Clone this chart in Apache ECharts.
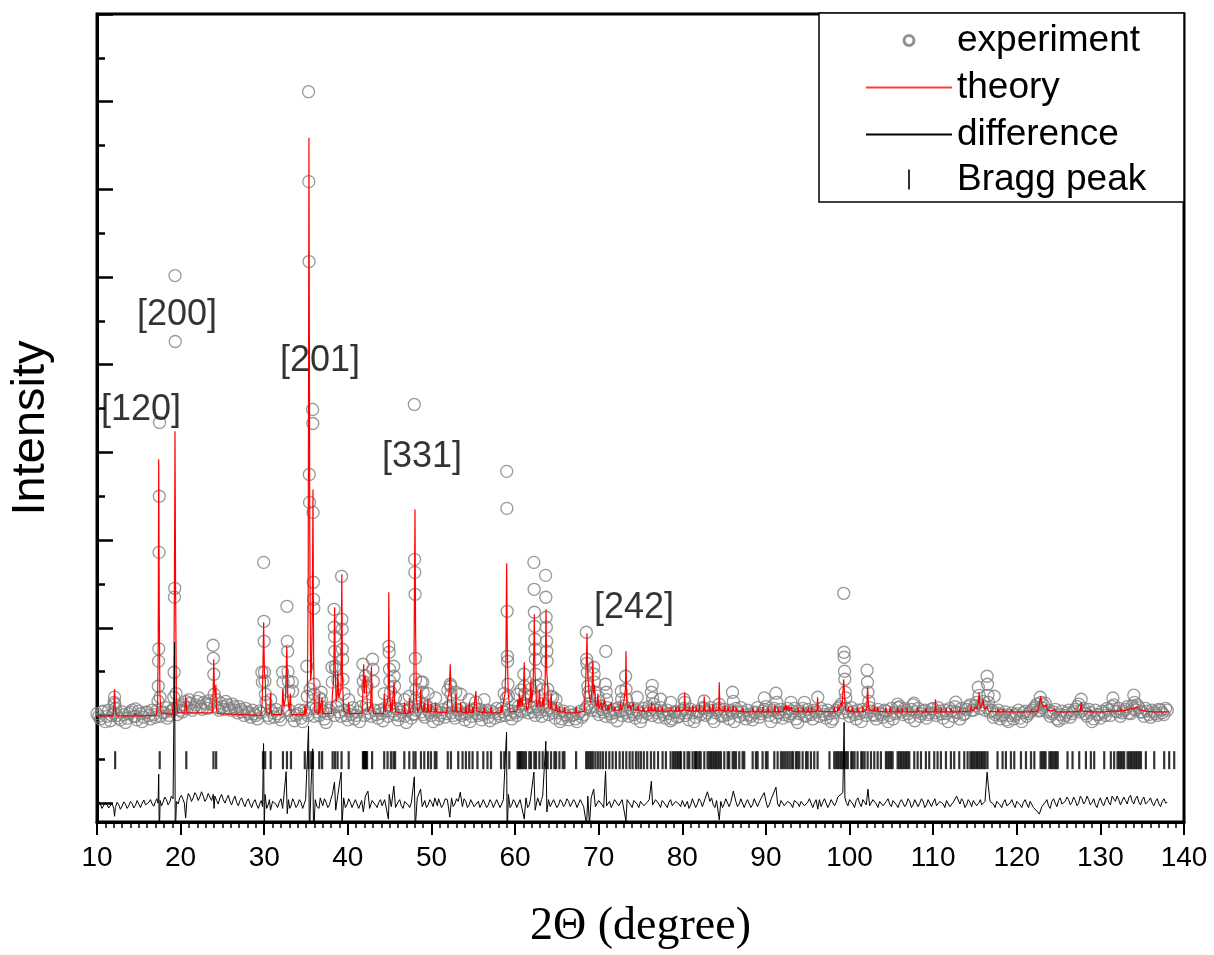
<!DOCTYPE html>
<html><head><meta charset="utf-8">
<script src="https://cdn.jsdelivr.net/npm/echarts@6/dist/echarts.min.js"></script>
<style>html,body{margin:0;padding:0;background:#fff}#chart{width:1214px;height:955px}</style>
</head><body><div id="chart"></div>
<script>
// ---- data (2θ in degrees, intensity in arbitrary units) ----
const experimentBackground = [
[10.0,1020],[10.4,960],[10.8,1050],[11.2,990],[11.6,940],[12.0,1030],[12.4,1000],[12.8,950],[13.2,1010],[13.6,970],
[14.0,1040],[14.4,990],[14.8,950],[15.2,1020],[15.6,980],[16.0,1040],[16.4,960],[16.8,1010],[17.2,1060],[17.6,990],
[18.0,1030],[18.4,970],[18.8,1050],[19.2,1080],[19.6,1010],[20.0,1060],[20.4,1120],[20.8,1080],[21.2,1140],[21.6,1090],
[22.0,1160],[22.4,1100],[22.8,1150],[23.2,1080],[23.6,1130],[24.4,1090],[24.8,1140],[25.2,1070],[25.6,1120],[26.0,1060],
[26.4,1100],[26.8,1030],[27.2,1070],[27.6,1000],[28.0,1040],[28.4,980],[28.8,1020],[29.2,960],[29.6,1030],[30.4,1000],
[30.8,1060],[31.2,980],[31.6,1020],[32.0,950],[32.4,1050],[33.2,1000],[33.6,940],[34.0,1020],[34.4,970],[34.8,1060],
[35.2,1000],[35.6,1080],[36.0,990],[36.4,1040],[36.8,1100],[37.2,960],[37.6,1020],[38.0,1090],[38.4,1000],[38.8,1120],
[39.2,990],[39.6,1060],[40.0,950],[40.4,1010],[40.8,960],[41.2,1040],[41.6,1100],[42.0,1000],[42.4,1080],[42.8,990],
[43.2,1060],[43.6,970],[44.0,1020],[44.4,1080],[44.8,990],[45.2,1100],[45.6,1010],[46.0,950],[46.4,1040],[46.8,990],
[47.2,1060],[47.6,970],[48.0,1020],[48.4,1100],[48.8,1040],[49.2,980],[49.6,1060],[50.0,1000],[50.4,1070],[50.8,960],
[51.2,1030],[51.6,980],[52.0,1090],[52.4,1030],[52.8,970],[53.2,1060],[53.6,1000],[54.0,950],[54.4,1040],[54.8,990],
[55.2,1080],[55.6,1000],[56.0,950],[56.4,1030],[56.8,980],[57.2,1050],[57.6,970],[58.0,1020],[58.4,1080],[58.8,1000],
[59.2,1060],[59.6,960],[60.0,1030],[60.4,1100],[60.8,1040],[61.2,1120],[61.6,1030],[62.0,1090],[62.4,1000],[62.8,1070],
[63.2,990],[63.6,1100],[64.0,1010],[64.4,1060],[64.8,970],[65.2,1030],[65.6,960],[66.0,1010],[66.4,950],[66.8,1000],
[67.2,960],[67.6,1020],[68.0,980],[68.4,1070],[68.8,1130],[69.2,1060],[69.6,1100],[70.0,1010],[70.4,1070],[70.8,990],
[71.2,1050],[71.6,980],[72.0,1030],[72.4,1090],[72.8,1000],[73.2,1060],[73.6,990],[74.0,1040],[74.4,970],[74.8,1030],
[75.2,980],[75.6,1050],[76.0,1100],[76.4,1000],[76.8,1060],[77.2,980],[77.6,1040],[78.0,970],[78.4,1020],[78.8,960],
[79.2,1040],[79.6,990],[80.0,1060],[80.4,1000],[80.8,950],[81.2,1030],[81.6,980],[82.0,1050],[82.4,1090],[82.8,1000],
[83.2,1060],[83.6,970],[84.0,1030],[84.4,1080],[84.8,990],[85.2,1040],[85.6,960],[86.0,1030],[86.4,1080],[86.8,990],
[87.2,1040],[87.6,960],[88.0,1010],[88.4,950],[88.8,1030],[89.2,980],[89.6,1050],[90.0,1100],[90.4,1000],[90.8,1060],
[91.2,980],[91.6,1030],[92.0,970],[92.4,1040],[92.8,990],[93.2,1050],[93.6,960],[94.0,1020],[94.4,1080],[94.8,990],
[95.2,1030],[95.6,960],[96.0,1040],[96.4,990],[96.8,1050],[97.2,970],[97.6,1020],[98.0,960],[98.4,1060],[98.8,1100],
[99.2,1030],[99.6,1080],[100.0,990],[100.4,1040],[100.8,960],[101.2,1020],[101.6,1070],[102.0,1000],[102.4,1090],[102.8,1010],
[103.2,960],[103.6,1030],[104.0,980],[104.4,1050],[104.8,1000],[105.2,960],[105.6,1040],[106.0,1100],[106.4,1010],[106.8,1060],
[107.2,980],[107.6,1120],[108.0,1040],[108.4,990],[108.8,1050],[109.2,970],[109.6,1030],[110.0,1080],[110.4,1000],[110.8,1050],
[111.2,970],[111.6,1020],[112.0,1080],[112.4,990],[112.8,1040],[113.2,960],[113.6,1010],[114.0,1070],[114.4,1120],[114.8,1060],
[115.2,1150],[115.6,1080],[116.0,1160],[116.4,1090],[116.8,1040],[117.2,980],[117.6,1030],[118.0,960],[118.4,1010],[118.8,950],
[119.2,1000],[119.6,960],[120.0,1020],[120.4,970],[120.8,1030],[121.2,990],[121.6,1040],[122.0,1080],[122.4,1130],[122.8,1060],
[123.2,1120],[123.6,1040],[124.0,990],[124.4,1040],[124.8,960],[125.2,1010],[125.6,970],[126.0,1030],[126.4,980],[126.8,1050],
[127.2,1100],[127.6,1040],[128.0,1080],[128.4,990],[128.8,1030],[129.2,960],[129.6,1010],[130.0,970],[130.4,1030],[130.8,1080],
[131.2,1000],[131.6,1120],[132.0,1040],[132.4,990],[132.8,1050],[133.2,1100],[133.6,1020],[134.0,1080],[134.4,1120],[134.8,1040],
[135.2,990],[135.6,1050],[136.0,980],[136.4,1040],[136.8,1000],[137.2,1060],[137.6,1010],[138.0,1060]
];
const experimentBackgroundB = [
[10.2,990],[10.6,1040],[11.0,930],[11.4,1060],[11.8,1000],[12.2,1080],[12.6,970],[13.0,1040],[13.4,920],[13.8,1020],
[14.2,1060],[14.6,990],[15.0,1050],[15.4,930],[15.8,1030],[16.2,1000],[16.6,1060],[17.0,980],[17.8,1040],[18.2,1090],
[18.6,1000],[19.0,1060],[19.8,1100],[20.2,1040],[20.6,1090],[21.0,1180],[21.4,1060],[21.8,1120],[22.2,1200],[22.6,1070],
[23.0,1130],[23.4,1170],[24.6,1060],[25.0,1100],[25.4,1160],[25.8,1080],[26.2,1130],[26.6,1060],[27.0,1100],[27.4,1040],
[27.8,1080],[28.2,1020],[28.6,1060],[29.0,1000],[29.4,1050],[30.6,970],[31.0,1030],[31.4,1070],[31.8,990],[33.0,1060],
[33.8,1000],[34.2,1060],[34.6,930],[35.0,1030],[36.2,1080],[36.6,1000],[37.0,1050],[37.4,920],[37.8,1060],[38.6,1100],
[39.0,1040],[39.8,1000],[40.2,1050],[40.6,1090],[41.0,1000],[41.4,930],[42.2,1120],[42.6,1030],[43.4,1010],[43.8,1060],
[44.2,940],[44.6,1050],[45.0,1120],[45.4,1050],[45.8,1080],[46.2,1000],[46.6,1070],[47.0,920],[47.4,1080],[47.8,1010],
[48.2,1060],[48.6,1140],[49.0,1010],[49.4,1100],[49.8,1030],[50.2,930],[50.6,1050],[51.0,1000],[51.4,1070],[51.8,1020],
[52.2,1110],[52.6,1000],[53.0,1070],[53.4,1020],[53.8,1080],[54.2,1020],[54.6,930],[55.0,1060],[55.4,1020],[55.8,1070],
[56.2,1010],[56.6,1060],[57.0,940],[57.4,1030],[57.8,1080],[58.2,990],[58.6,1040],[59.4,1010],[59.8,1050],[60.2,1000],
[60.6,1060],[61.0,1140],[61.4,1070],[61.8,1100],[62.2,1040],[62.6,1100],[63.0,1040],[63.4,1140],[63.8,1060],[64.2,1090],
[64.6,1030],[65.0,1080],[65.4,930],[65.8,1050],[66.2,990],[66.6,1040],[67.0,1010],[67.4,930],[67.8,1050],[68.2,1010],
[68.6,1100],[69.0,1090],[69.8,1050],[70.2,1110],[70.6,1040],[71.0,1090],[71.4,1020],[71.8,1070],[72.2,940],[72.6,1050],
[73.0,1110],[73.4,1030],[73.8,1080],[74.2,1010],[74.6,1060],[75.0,930],[75.4,1080],[75.8,1020],[76.2,1060],[76.6,1130],
[77.0,1030],[77.4,1090],[77.8,1010],[78.2,1060],[78.6,940],[79.0,1040],[79.4,980],[79.8,1030],[80.2,1080],[80.6,1030],
[81.0,1070],[81.4,930],[81.8,1040],[82.2,1010],[82.6,1080],[83.0,1030],[83.4,1090],[83.8,930],[84.2,1060],[84.6,1000],
[85.0,1070],[85.4,1010],[85.8,1060],[86.2,930],[86.6,1040],[87.0,1090],[87.4,1010],[87.8,1060],[88.2,990],[88.6,1040],
[89.0,1090],[89.4,1020],[89.8,1070],[90.2,1040],[90.6,930],[91.0,1080],[91.4,1030],[91.8,1070],[92.2,1010],[92.6,1080],
[93.0,1020],[93.4,1080],[93.8,920],[94.2,1050],[94.6,1000],[95.0,1070],[95.4,1010],[95.8,1060],[96.6,1080],[97.0,1010],
[97.4,1060],[97.8,930],[98.2,1030],[98.6,1080],[99.0,1130],[99.8,1040],[100.2,1090],[100.6,1010],[101.0,1060],[101.4,930],
[101.8,1040],[102.6,1050],[103.0,1000],[103.4,1070],[103.8,1010],[104.2,1060],[104.6,930],[105.0,1080],[105.4,1020],[105.8,1090],
[106.2,1040],[106.6,1080],[107.0,1020],[107.4,1070],[107.8,940],[108.2,1080],[108.6,1020],[109.0,1060],[109.4,1010],[109.8,1070],
[110.2,1030],[110.6,1090],[111.0,1020],[111.4,1060],[111.8,930],[112.2,1050],[112.6,1100],[113.0,1030],[113.4,1080],[113.8,1020],
[114.2,1100],[114.6,1060],[115.0,1110],[115.8,1120],[116.2,1060],[117.0,1060],[117.4,1010],[117.8,1060],[118.2,1000],[118.6,1040],
[119.0,930],[119.4,1030],[119.8,1000],[120.2,1060],[120.6,930],[121.0,1050],[121.4,1020],[121.8,1060],[122.2,1100],[122.6,1050],
[123.0,1090],[123.4,1140],[123.8,1060],[124.2,1020],[124.6,1070],[125.0,940],[125.4,1050],[125.8,1000],[126.2,1060],[126.6,1020],
[127.0,1070],[127.4,1130],[127.8,1060],[128.2,1020],[128.6,1070],[129.0,930],[129.4,1060],[129.8,1010],[130.2,1050],[130.6,1000],
[131.0,1060],[131.4,1100],[131.8,1050],[132.2,1080],[132.6,1030],[133.0,1070],[133.4,1030],[133.8,1110],[134.2,1060],[134.6,1090],
[135.0,1040],[135.4,1080],[135.8,1010],[136.2,1060],[136.6,1020],[137.0,1070],[137.4,1030],[137.8,1080]
];
const experimentPeaks = [
[12.05,1150],[12.1,1210],[12.15,1130],[14.6,1075],
[17.3,1163],[17.33,1333],[17.36,1620],[17.39,1760],[17.42,2860],[17.45,3500],[17.48,4342],[17.55,1208],
[19.18,1208],[19.22,1493],[19.26,2350],[19.3,2450],[19.33,6017],[19.36,5265],[19.45,1250],[20.62,1160],
[23.88,1801],[23.92,1652],[23.97,1470],[24.02,1242],[24.1,1105],[24.25,1180],
[29.72,1493],[29.78,1380],[29.93,2746],[29.96,2074],[29.99,1846],[30.03,1493],[30.08,1390],[30.14,1242],[30.2,1150],[30.78,1180],
[32.2,1493],[32.25,1380],[32.72,2245],[32.76,1846],[32.8,1732],[32.84,1500],[32.88,1390],[32.93,1276],[33.35,1380],[33.4,1276],
[35.1,1561],[35.15,1219],[35.3,8114],[35.33,7088],[35.36,6177],[35.39,3749],[35.42,3430],[35.5,1300],
[35.78,4490],[35.81,4330],[35.84,3316],[35.87,2519],[35.9,2325],[35.93,2222],[35.97,1356],[36.0,1242],
[36.62,1200],[36.8,1265],[36.85,1180],
[38.1,1550],[38.14,1380],[38.35,2211],[38.38,2006],[38.42,1900],[38.45,1732],[38.5,1561],[38.55,1527],
[38.8,1400],[39.25,2587],[39.28,2097],[39.31,1983],[39.34,1755],[39.37,1641],[39.42,1413],[39.55,1250],[40.1,1180],
[41.8,1584],[41.85,1390],[41.9,1276],[42.1,1450],[42.3,1330],[42.95,1641],[43.0,1527],[43.05,1390],
[44.35,1250],[44.9,1789],[44.94,1721],[44.98,1527],[45.02,1390],[45.1,1270],[45.48,1561],[45.53,1447],[45.58,1333],[45.7,1200],
[46.8,1180],[47.35,1220],
[47.95,4547],[47.98,2780],[48.01,2632],[48.04,2382],[48.07,1652],[48.1,1413],[48.14,1299],[48.2,1200],
[48.75,1380],[48.95,1379],[49.0,1265],[49.6,1250],[50.5,1200],
[51.95,1290],[52.25,1356],[52.3,1333],[52.34,1242],[52.9,1265],[53.5,1242],[54.5,1180],[55.3,1151],[56.3,1180],
[58.7,1250],[58.95,1200],[59.0,3784],[59.02,3362],[59.05,2188],[59.08,1675],[59.11,1618],[59.15,1356],[59.2,1219],
[60.3,1242],[60.7,1290],[61.05,1470],[61.1,1333],[61.15,1242],[61.9,1300],[61.95,1220],
[62.25,2746],[62.28,2439],[62.31,2177],[62.34,2017],[62.37,1869],[62.4,1755],[62.43,1641],[62.47,1470],[62.52,1333],
[62.9,1350],[63.3,1300],
[63.65,2598],[63.68,2348],[63.71,2120],[63.74,2006],[63.77,1846],[63.8,1732],[63.83,1618],[63.9,1299],
[64.3,1220],[64.5,1208],[64.9,1180],
[68.52,1949],[68.56,1641],[68.6,1595],[68.64,1493],[68.7,1333],[68.76,1265],[68.9,1220],
[69.4,1550],[69.45,1470],[69.5,1380],[69.58,1265],[69.9,1220],
[70.8,1356],[70.85,1732],[70.9,1265],[70.95,1180],
[72.7,1276],[72.75,1185],[73.22,1447],[73.27,1299],[73.32,1185],
[74.6,1208],[76.3,1265],[76.4,1344],[76.45,1200],[77.4,1185],[78.6,1150],[80.2,1185],[80.3,1150],
[82.6,1165],[84.4,1128],[86.0,1265],[86.1,1160],[89.8,1200],[91.2,1254],[91.3,1150],[93.0,1150],[94.6,1150],[96.2,1208],
[99.3,2393],[99.33,1721],[99.36,1664],[99.4,1504],[99.43,1413],[99.48,1265],[99.55,1200],
[102.1,1516],[102.15,1379],[102.2,1265],[102.3,1160],
[105.75,1130],[107.7,1140],[112.7,1151],
[115.4,1322],[115.5,1230],[116.45,1447],[116.5,1356],[116.55,1230],[116.6,1150],[117.3,1219],
[122.8,1208],[122.9,1150],[127.7,1185],[131.5,1199],[134.0,1231],[134.1,1150]
];
const theory = [
[10.0,995],[11.9,995],[12.0,1080],[12.1,1300],[12.2,1060],[12.3,995],[14.5,995],[14.6,1026],[14.7,995],
[17.1,1000],[17.25,1150],[17.32,1800],[17.38,3922],[17.45,2200],[17.52,1250],[17.65,1030],
[19.0,1010],[19.18,1200],[19.26,2500],[19.33,4241],[19.4,2400],[19.5,1150],[19.65,1030],[20.5,1030],[20.62,1220],[20.75,1030],
[23.8,1030],[23.9,1300],[23.96,1641],[24.05,1300],[24.15,1200],[24.22,1350],[24.3,1060],[24.45,1020],
[29.6,1000],[29.75,1150],[29.84,1500],[29.93,2063],[30.02,1500],[30.12,1400],[30.22,1050],[30.65,1010],[30.75,1250],[30.85,1010],
[32.1,1010],[32.22,1300],[32.35,1100],[32.55,1200],[32.7,1790],[32.82,1200],[33.0,1050],[33.12,1250],[33.25,1010],
[34.8,1010],[34.88,1120],[34.96,1010],[35.15,1100],[35.26,2500],[35.35,7590],[35.45,3000],[35.55,1400],[35.65,1500],
[35.76,2300],[35.83,3578],[35.9,1700],[36.0,1050],[36.5,1020],[36.58,1250],[36.66,1030],[36.85,1030],[36.92,1200],[37.0,1020],
[38.05,1020],[38.16,1250],[38.3,1400],[38.42,2234],[38.5,1500],[38.6,1150],[38.72,1250],[38.8,1500],[38.9,1200],
[39.18,1300],[39.28,2610],[39.36,1400],[39.5,1050],[40.0,1020],[40.1,1150],[40.2,1020],
[41.7,1020],[41.8,1300],[41.9,1584],[41.98,1250],[42.08,1450],[42.18,1400],[42.28,1200],[42.4,1040],[42.72,1100],[42.82,1562],
[42.92,1100],[43.1,1020],[44.25,1020],[44.35,1250],[44.45,1040],[44.82,1200],[44.9,2405],[44.98,1300],[45.1,1040],[45.15,1150],
[45.3,1050],[45.45,1300],[45.52,1379],[45.6,1150],[45.72,1040],[46.7,1020],[46.78,1150],[46.86,1020],[47.3,1030],[47.36,1200],
[47.44,1030],[47.8,1050],[47.9,1400],[47.97,2500],[48.03,3350],[48.1,2000],[48.2,1200],[48.35,1040],[48.62,1100],[48.72,1300],
[48.82,1080],[49.05,1040],[49.14,1150],[49.24,1040],[49.5,1040],[49.58,1200],[49.66,1040],[49.9,1040],[49.96,1130],[50.02,1040],
[50.42,1040],[50.5,1150],[50.58,1040],[51.85,1030],[51.95,1200],[52.1,1250],[52.25,1584],[52.35,1250],[52.5,1050],[52.85,1040],
[52.93,1250],[53.0,1040],[53.42,1040],[53.5,1151],[53.58,1040],[54.05,1030],[54.12,1120],[54.2,1030],[54.45,1030],[54.52,1150],
[54.6,1030],[54.85,1030],[54.92,1100],[55.0,1030],[55.22,1050],[55.32,1277],[55.4,1050],[56.2,1030],[56.3,1100],[56.4,1030],
[57.05,1030],[57.12,1100],[57.2,1030],[58.25,1030],[58.32,1120],[58.4,1030],[58.62,1050],[58.7,1200],[58.8,1250],[58.9,1600],
[58.99,2735],[59.08,1700],[59.18,1250],[59.3,1150],[59.4,1040],[60.25,1050],[60.32,1180],[60.45,1100],[60.52,1250],[60.6,1100],
[60.72,1200],[60.85,1100],[61.0,1300],[61.1,1607],[61.18,1250],[61.3,1150],[61.4,1060],[61.62,1100],[61.7,1200],[61.8,1150],
[61.9,1413],[61.98,1150],[62.15,1300],[62.25,1800],[62.3,2154],[62.38,1500],[62.5,1250],[62.6,1100],[62.85,1150],[62.92,1300],
[63.0,1100],[63.25,1120],[63.33,1200],[63.45,1100],[63.6,1400],[63.7,2211],[63.78,1500],[63.9,1350],[64.0,1100],[64.25,1080],
[64.32,1250],[64.4,1080],[64.85,1050],[64.92,1150],[65.0,1050],[65.25,1040],[65.32,1100],[65.4,1040],[65.85,1040],[65.92,1100],
[66.0,1030],[67.22,1030],[67.3,1100],[67.38,1030],[68.3,1050],[68.45,1400],[68.55,1700],[68.6,1938],[68.68,1500],[68.8,1300],
[68.9,1200],[69.05,1150],[69.2,1300],[69.3,1618],[69.38,1250],[69.5,1350],[69.6,1150],[69.8,1100],[69.9,1250],[70.0,1080],
[70.2,1100],[70.3,1150],[70.4,1060],[70.62,1080],[70.7,1185],[70.8,1080],[71.05,1060],[71.12,1120],[71.2,1060],[71.42,1060],
[71.5,1150],[71.58,1060],[71.85,1060],[71.92,1100],[72.0,1060],[72.5,1060],[72.6,1150],[72.7,1060],[72.9,1080],[72.96,1120],
[73.1,1100],[73.2,1300],[73.26,1732],[73.34,1200],[73.45,1080],[73.68,1060],[73.75,1120],[73.82,1060],[74.05,1060],[74.12,1150],
[74.2,1060],[74.65,1060],[74.72,1120],[74.8,1060],[75.25,1050],[75.32,1100],[75.4,1050],[75.85,1050],[75.92,1100],[76.0,1050],
[76.25,1060],[76.32,1150],[76.4,1060],[76.65,1050],[76.72,1100],[76.8,1050],[77.05,1050],[77.12,1090],[77.2,1050],[77.55,1050],
[77.62,1100],[77.7,1050],[78.55,1050],[78.62,1090],[78.7,1050],[79.15,1050],[79.22,1100],[79.3,1050],[79.55,1050],[79.62,1100],
[79.7,1050],[80.2,1060],[80.28,1265],[80.36,1060],[80.8,1050],[80.86,1100],[80.94,1050],[81.2,1050],[81.26,1120],[81.34,1050],
[81.6,1050],[81.66,1100],[81.74,1050],[82.0,1050],[82.06,1120],[82.14,1050],[82.55,1050],[82.62,1220],[82.7,1050],[83.2,1050],
[83.26,1120],[83.34,1050],[83.6,1050],[83.66,1130],[83.74,1050],[84.35,1060],[84.42,1379],[84.5,1060],[85.0,1050],[85.06,1110],
[85.14,1050],[85.4,1050],[85.46,1100],[85.54,1050],[86.0,1050],[86.06,1120],[86.14,1050],[86.4,1050],[86.46,1090],[86.54,1050],
[87.2,1040],[87.26,1090],[87.34,1040],[88.4,1040],[88.46,1090],[88.54,1040],[89.0,1040],[89.06,1080],[89.14,1040],[89.6,1040],
[89.66,1100],[89.74,1040],[90.2,1040],[90.26,1090],[90.34,1040],[91.0,1040],[91.06,1120],[91.14,1040],[91.4,1040],[91.46,1090],
[91.54,1040],[92.1,1050],[92.16,1110],[92.3,1060],[92.4,1120],[92.5,1060],[92.7,1110],[92.8,1050],[93.0,1050],[93.06,1100],
[93.14,1050],[93.8,1040],[93.86,1090],[93.94,1040],[94.4,1040],[94.46,1100],[94.54,1040],[95.0,1040],[95.06,1090],[95.14,1040],
[95.4,1040],[95.46,1100],[95.54,1040],[96.1,1050],[96.18,1208],[96.26,1050],[98.1,1040],[98.18,1100],[98.26,1040],[98.55,1050],
[98.62,1120],[98.7,1050],[98.9,1060],[98.98,1150],[99.1,1100],[99.2,1250],[99.3,1413],[99.37,1300],[99.45,1150],[99.55,1060],
[99.8,1050],[99.86,1100],[99.94,1050],[100.3,1040],[100.37,1100],[100.44,1040],[100.9,1040],[100.96,1090],[101.04,1040],[101.5,1040],
[101.56,1100],[101.64,1040],[102.05,1060],[102.16,1322],[102.25,1150],[102.35,1060],[102.9,1050],[102.96,1110],[103.04,1050],[103.3,1050],
[103.36,1100],[103.44,1050],[104.3,1040],[104.36,1090],[104.44,1040],[104.8,1040],[104.86,1100],[104.94,1040],[105.7,1040],[105.76,1090],
[105.84,1040],[106.25,1040],[106.3,1080],[106.36,1040],[106.85,1040],[106.9,1090],[106.96,1040],[108.1,1040],[108.16,1090],[108.24,1040],
[109.1,1040],[109.16,1080],[109.24,1040],[110.2,1040],[110.28,1185],[110.36,1040],[110.9,1040],[110.96,1090],[111.04,1040],[111.5,1040],
[111.56,1080],[111.64,1040],[112.1,1040],[112.16,1080],[112.24,1040],[113.1,1040],[113.16,1080],[113.24,1040],[114.45,1050],[114.52,1110],
[114.6,1060],[114.8,1080],[114.9,1060],[115.1,1100],[115.2,1070],[115.42,1150],[115.5,1265],[115.58,1120],[115.7,1080],[116.0,1180],
[116.1,1070],[116.4,1100],[116.5,1090],[116.6,1050],[117.7,1040],[117.76,1080],[117.84,1040],[118.3,1040],[118.36,1070],[118.44,1040],
[119.3,1040],[119.36,1070],[119.44,1040],[120.5,1040],[120.56,1060],[120.64,1040],[121.7,1040],[121.76,1070],[121.84,1040],[122.5,1050],
[122.7,1120],[122.85,1220],[122.95,1150],[123.2,1100],[123.5,1120],[123.7,1060],[124.2,1050],[124.5,1070],[124.7,1040],[126.1,1040],
[126.16,1060],[126.24,1040],[126.6,1040],[126.66,1060],[126.74,1040],[127.6,1050],[127.7,1151],[127.8,1050],[128.8,1040],[128.86,1070],
[128.94,1040],[129.2,1040],[129.26,1060],[129.34,1040],[130.4,1040],[130.46,1060],[130.54,1040],[131.4,1050],[131.5,1070],[131.6,1050],
[132.35,1050],[132.4,1080],[132.5,1050],[133.2,1060],[133.6,1080],[133.9,1070],[134.3,1100],[134.6,1070],[134.9,1060],[135.4,1050],
[135.46,1070],[135.54,1050],[136.4,1040],[136.46,1060],[136.54,1040],[137.6,1040],[137.66,1060],[137.74,1040],[138.2,1040]
];
const difference = [
[10.0,-30],[10.4,-10],[10.8,-40],[11.2,-20],[11.6,-35],[12.0,-60],[12.1,-150],[12.2,-50],[12.6,-20],[13.0,-35],
[13.4,-10],[13.8,-30],[14.2,-5],[14.6,-25],[15.0,-10],[15.4,0],[15.8,-20],[16.2,10],[16.6,-10],[17.0,20],
[17.3,0],[17.38,330],[17.45,-400],[17.55,30],[17.9,10],[18.3,40],[18.7,10],[19.1,50],[19.28,1835],[19.36,-400],
[19.5,20],[19.9,60],[20.3,40],[20.6,-170],[20.75,30],[21.1,80],[21.5,60],[21.9,90],[22.3,70],[22.7,80],
[23.1,50],[23.5,70],[23.9,100],[24.0,-60],[24.1,80],[24.3,30],[24.7,60],[25.1,40],[25.5,50],[25.9,20],
[26.3,40],[26.7,10],[27.1,30],[27.5,0],[27.9,20],[28.3,-10],[28.7,10],[29.1,-20],[29.5,0],[29.8,-40],
[29.92,680],[30.0,-300],[30.1,100],[30.5,-10],[30.75,-80],[31.0,20],[31.4,-10],[31.8,10],[32.2,-60],[32.35,80],
[32.62,360],[32.75,-120],[32.9,40],[33.2,-30],[33.6,10],[34.0,-20],[34.4,10],[34.8,-40],[35.1,30],[35.3,880],
[35.4,-400],[35.6,200],[35.8,620],[35.9,-400],[36.1,40],[36.55,-60],[36.7,60],[37.0,-30],[37.4,10],[37.8,-20],
[38.15,100],[38.4,240],[38.55,-80],[38.8,90],[39.2,353],[39.3,-250],[39.5,60],[39.9,-20],[40.3,10],[40.7,-30],
[41.1,20],[41.5,-40],[41.85,-100],[42.1,80],[42.4,137],[42.6,-60],[42.9,30],[43.3,-20],[43.7,10],[44.1,-30],
[44.4,40],[44.85,-182],[44.95,100],[45.2,-40],[45.5,194],[45.7,-50],[46.0,10],[46.4,-30],[46.8,20],[47.2,-20],
[47.6,10],[47.95,300],[48.05,-300],[48.3,60],[48.7,160],[48.9,-40],[49.2,30],[49.6,-20],[50.0,10],[50.4,60],
[50.7,-30],[51.0,10],[51.4,-20],[51.9,40],[52.2,-160],[52.4,60],[52.8,-10],[53.2,20],[53.45,125],[53.7,-40],
[54.1,20],[54.5,-20],[54.9,30],[55.3,-60],[55.6,20],[56.0,-10],[56.4,30],[56.8,-20],[57.2,10],[57.6,-30],
[58.0,20],[58.4,-10],[58.8,60],[58.98,810],[59.05,-400],[59.2,100],[59.6,-20],[60.0,10],[60.4,-40],[60.8,30],
[61.1,-182],[61.3,60],[61.7,-20],[62.0,40],[62.25,353],[62.4,-80],[62.7,60],[63.0,-30],[63.3,80],[63.68,706],
[63.8,-100],[64.0,40],[64.4,-30],[64.8,20],[65.2,-20],[65.6,10],[66.0,-10],[66.4,20],[66.8,-20],[67.2,10],
[67.6,-30],[68.0,0],[68.4,-60],[68.55,-250],[68.7,80],[68.9,-250],[69.1,60],[69.4,160],[69.6,-40],[70.0,30],
[70.4,-20],[70.82,365],[70.95,-30],[71.3,20],[71.7,-10],[72.1,60],[72.4,-30],[72.8,40],[73.26,-205],[73.4,40],
[73.8,-20],[74.2,30],[74.6,-10],[75.0,20],[75.4,-30],[75.8,10],[76.3,250],[76.45,-20],[76.8,40],[77.2,-10],
[77.6,30],[78.0,-20],[78.4,10],[78.8,-30],[79.2,20],[79.6,-10],[80.0,30],[80.3,-40],[80.6,20],[81.0,-20],
[81.4,40],[81.8,-10],[82.2,20],[82.6,-60],[83.0,130],[83.3,20],[83.7,-20],[84.1,30],[84.42,-190],[84.6,20],
[85.0,-10],[85.4,40],[85.8,10],[86.1,137],[86.4,20],[86.8,-10],[87.2,30],[87.6,0],[88.0,20],[88.4,-20],
[88.8,40],[89.2,10],[89.6,30],[89.8,120],[90.0,20],[90.4,-20],[90.8,30],[91.2,182],[91.4,-10],[91.8,30],
[92.2,-30],[92.6,20],[93.0,-10],[93.4,30],[93.8,0],[94.2,20],[94.6,-30],[95.0,10],[95.4,40],[95.8,0],
[96.2,-68],[96.4,40],[96.8,10],[97.2,30],[97.6,-10],[98.0,40],[98.4,10],[98.8,50],[99.2,120],[99.35,923],
[99.45,60],[99.6,10],[100.0,40],[100.4,-10],[100.8,30],[101.2,0],[101.6,40],[102.0,-20],[102.2,160],[102.4,-30],
[102.8,40],[103.2,-10],[103.6,20],[104.0,-30],[104.4,20],[104.8,-10],[105.2,30],[105.6,-20],[106.0,10],[106.4,40],
[106.8,-10],[107.2,20],[107.6,-20],[108.0,30],[108.4,0],[108.8,20],[109.2,-20],[109.6,40],[110.0,10],[110.4,-30],
[110.8,20],[111.2,-10],[111.6,30],[112.0,-40],[112.4,10],[112.8,80],[113.2,-10],[113.6,20],[114.0,-20],[114.4,10],
[114.8,30],[115.2,-30],[115.5,10],[115.8,-20],[116.2,20],[116.45,353],[116.6,200],[116.8,20],[117.2,-10],[117.6,20],
[118.0,-20],[118.4,10],[118.8,-30],[119.2,0],[119.6,-10],[120.0,20],[120.4,-20],[120.8,10],[121.2,-10],[121.6,20],
[122.0,-50],[122.4,-90],[122.7,-125],[123.0,-40],[123.4,10],[123.8,-30],[124.2,20],[124.6,0],[125.0,30],[125.4,-10],
[125.8,20],[126.2,40],[126.6,10],[127.0,30],[127.4,0],[127.8,50],[128.2,20],[128.6,40],[129.0,10],[129.4,-20],
[129.8,20],[130.2,0],[130.6,30],[131.0,10],[131.4,80],[131.8,20],[132.2,40],[132.6,0],[133.0,30],[133.4,60],
[133.8,20],[134.2,50],[134.6,10],[135.0,40],[135.4,-10],[135.8,30],[136.2,0],[136.6,20],[137.0,-10],[137.4,20],
[137.8,0],[138.0,10]
];
const differenceDetail = [
[10.2,20],[10.6,-60],[11.0,10],[11.4,-55],[11.8,0],[12.4,10],[12.8,-70],[13.2,15],[13.6,-60],[14.0,20],
[14.4,-55],[14.8,30],[15.2,-50],[15.6,35],[16.0,-40],[16.4,40],[16.8,-35],[17.15,50],[17.72,-30],[18.1,70],
[18.5,-20],[18.9,80],[19.7,-10],[20.1,90],[20.45,0],[20.92,110],[21.3,20],[21.7,120],[22.1,30],[22.5,130],
[22.9,20],[23.3,110],[23.7,30],[24.5,-10],[24.9,100],[25.3,0],[25.7,90],[26.1,-20],[26.5,80],[26.9,-30],
[27.3,60],[27.7,-40],[28.1,50],[28.5,-50],[28.9,40],[29.3,-60],[29.65,30],[30.3,-60],[30.62,40],[31.2,40],
[31.6,-50],[32.0,50],[33.05,-60],[33.4,50],[33.8,-50],[34.2,40],[34.6,-60],[34.95,40],[36.3,-40],[37.2,50],
[37.6,-50],[37.95,40],[39.7,-50],[40.1,50],[40.5,-50],[40.9,40],[41.3,-60],[41.65,30],[43.1,50],[43.5,-50],
[43.9,40],[44.25,-50],[45.85,-50],[46.2,40],[46.6,-60],[47.0,40],[47.4,-50],[47.78,30],[49.4,-50],[49.8,40],
[50.2,-40],[50.85,50],[51.2,-50],[51.65,50],[52.6,-40],[53.0,50],[53.9,50],[54.3,-50],[54.7,40],[55.1,-40],
[55.8,-50],[56.2,40],[56.6,-50],[57.0,40],[57.4,-50],[57.8,40],[58.2,-50],[58.6,40],[59.4,-50],[59.8,40],
[60.2,-50],[60.6,40],[61.5,-50],[61.85,50],[63.15,40],[64.2,-40],[64.6,40],[65.0,-50],[65.4,40],[65.8,-40],
[66.2,50],[66.6,-40],[67.0,40],[67.4,-50],[67.8,40],[68.2,-40],[69.8,-50],[70.2,40],[70.6,-50],[71.5,-50],
[71.9,40],[72.6,-40],[73.6,40],[74.0,-50],[74.4,50],[74.8,-50],[75.2,40],[75.6,-50],[76.05,40],[76.62,-40],
[77.0,50],[77.4,-50],[77.8,40],[78.2,-50],[78.6,40],[79.0,-50],[79.4,40],[79.8,-40],[80.8,-60],[81.2,50],
[81.6,-50],[82.0,50],[82.4,-40],[83.5,60],[83.9,-50],[84.8,-50],[85.2,50],[85.6,-40],[86.6,-40],[87.0,50],
[87.4,-50],[87.8,40],[88.2,-50],[88.6,50],[89.0,-40],[89.4,50],[90.2,-50],[90.6,40],[91.6,-40],[92.0,50],
[92.4,-50],[92.8,40],[93.2,-50],[93.6,50],[94.0,-40],[94.4,40],[94.8,-50],[95.2,50],[95.6,-50],[96.0,40],
[96.6,-40],[97.0,50],[97.4,-50],[97.8,40],[98.2,-30],[98.6,70],[99.8,-30],[100.2,60],[100.6,-50],[101.0,60],
[101.4,-40],[101.8,50],[103.0,50],[103.4,-50],[103.8,40],[104.2,-50],[104.6,50],[105.0,-40],[105.4,50],[105.8,-50],
[106.2,40],[106.6,-40],[107.0,50],[107.4,-50],[107.8,40],[108.2,-40],[108.6,50],[109.0,-50],[109.4,40],[109.8,-40],
[110.2,50],[110.6,-50],[111.0,40],[111.4,-50],[111.8,40],[112.2,-50],[113.4,50],[113.8,-50],[114.2,40],[114.6,-40],
[115.0,50],[115.35,-50],[115.65,40],[116.0,-40],[117.0,40],[117.4,-50],[117.8,40],[118.2,-50],[118.6,40],[119.0,-50],
[119.4,40],[119.8,-50],[120.2,40],[120.6,-50],[121.0,40],[121.4,-50],[121.8,30],[123.6,40],[124.0,-60],[124.4,50],
[124.8,-40],[125.2,60],[125.6,-30],[126.0,70],[126.4,-20],[126.8,70],[127.2,-30],[127.6,80],[128.0,-10],[128.4,80],
[128.8,-20],[129.2,50],[129.6,-50],[130.0,60],[130.4,-30],[130.8,70],[131.2,-20],[132.0,80],[132.4,-20],[132.8,70],
[133.2,-10],[133.6,90],[134.0,-10],[134.4,80],[134.8,-20],[135.2,70],[135.6,-30],[136.0,60],[136.4,-30],[136.8,50],
[137.2,-40],[137.6,50]
];
const braggPeaks = [
12.17,17.5,20.68,23.93,24.25,29.85,30.11,30.77,32.24,32.72,33.2,34.85,35.29,35.62,35.83,36.58,36.92,38.18,38.46,38.77,
39.25,40.1,41.8,41.88,41.96,42.04,42.12,42.2,42.3,42.9,44.35,44.75,45.15,45.45,45.65,46.75,47.35,47.85,48.1,48.74,
49.14,49.6,49.94,50.4,50.6,51.95,52.33,53.2,53.72,54.12,54.52,54.92,55.5,56.2,56.7,57.12,58.32,58.71,59.31,60.3,
60.45,60.6,60.75,60.9,61.1,61.3,61.7,61.9,62.3,62.5,62.9,63.3,63.7,63.9,64.3,64.7,64.9,65.3,65.7,65.9,
67.3,68.5,68.7,68.9,69.1,69.3,69.6,69.9,70.2,70.5,70.87,71.27,71.66,72.06,72.5,72.9,73.3,73.7,74.05,74.45,
74.75,75.05,75.4,75.8,76.25,76.64,77.1,77.64,78.04,78.6,78.9,79.1,79.3,79.5,79.7,79.84,80.24,80.63,80.84,81.23,
81.5,81.63,81.8,82.03,82.2,82.63,83.02,83.23,83.42,83.63,83.82,84.02,84.22,84.42,84.62,85.02,85.42,85.61,86.02,86.21,
86.42,86.81,87.21,87.41,88.41,88.8,89.01,89.6,90.0,90.2,91.0,91.4,91.8,92.05,92.3,92.55,92.8,93.05,93.25,93.6,
93.79,94.0,94.39,94.8,94.99,95.38,95.78,96.18,97.6,98.17,98.4,98.6,98.8,99.0,99.2,99.4,99.6,99.8,100.2,100.37,
100.6,100.96,101.4,101.56,101.8,102.16,102.56,102.96,103.36,103.75,104.35,104.55,104.75,104.95,105.15,105.75,105.95,106.15,106.35,106.55,
106.75,106.95,107.15,107.74,108.14,108.54,109.13,109.53,110.13,110.53,110.93,111.53,112.12,112.52,113.12,113.72,114.12,114.45,114.65,114.85,
115.05,115.25,115.45,115.65,115.85,116.05,116.25,116.5,117.7,118.3,118.7,119.3,119.7,120.5,121.1,121.7,122.1,122.85,123.05,123.25,
123.45,123.9,124.1,124.3,124.5,124.7,124.9,126.07,126.67,127.47,128.27,128.86,129.26,130.46,131.25,131.65,132.05,132.25,132.45,132.65,
132.85,133.25,133.45,133.65,133.85,134.05,134.25,134.45,134.65,134.85,135.44,136.44,137.63,138.23,138.83
];
const braggLevel = 490;
const annotationLabels = ['[120]','[200]','[201]','[331]','[242]'];
const annotationPositions = [[15.26,4479],[19.57,5561],[36.67,5037],[48.87,3943],[74.22,2222]];
const legendNames = ['experiment','theory','difference','Bragg peak'];
const xRange = {min:10, max:140, interval:10};
const yRange = {min:-215, max:9000, step:1000};

// ---- chart ----
const SANS = "'Liberation Sans', Arial, Helvetica, sans-serif";
const SERIF = "'Liberation Serif', 'Times New Roman', serif";
const byX = (a, b) => a[0] - b[0];
const chart = echarts.init(document.getElementById('chart'), null, {renderer: 'canvas'});
const option = {
  animation: false,
  backgroundColor: '#fff',
  grid: {left: 96, right: 30, top: 14, bottom: 132, show: true, borderColor: '#000', borderWidth: 3, backgroundColor: 'transparent'},
  xAxis: {
    type: 'value', min: xRange.min, max: xRange.max, interval: xRange.interval,
    axisLine: {show: true, onZero: false, lineStyle: {color: '#000', width: 3}},
    axisTick: {show: true, inside: false, length: 13, lineStyle: {color: '#000', width: 2}},
    minorTick: {show: true, splitNumber: 10, length: 6, lineStyle: {color: '#000', width: 1.5}},
    axisLabel: {color: '#000', fontSize: 28, fontFamily: SANS, margin: 22},
    splitLine: {show: false},
    name: '2Θ (degree)', nameLocation: 'middle', nameGap: 82,
    nameTextStyle: {color: '#000', fontSize: 46, fontFamily: SERIF}
  },
  yAxis: {
    type: 'value', min: yRange.min, max: yRange.max, minInterval: yRange.step, maxInterval: yRange.step,
    axisLine: {show: true, onZero: false, lineStyle: {color: '#000', width: 3}},
    axisTick: {show: true, inside: true, length: 16, lineStyle: {color: '#000', width: 2.5}},
    minorTick: {show: true, splitNumber: 2, length: 8, lineStyle: {color: '#000', width: 2.5}},
    axisLabel: {show: false},
    splitLine: {show: false},
    name: 'Intensity', nameLocation: 'middle', nameGap: 42,
    nameTextStyle: {color: '#000', fontSize: 47, fontFamily: SANS, padding: [0, 20, 0, 0]}
  },
  legend: [
    {
      orient: 'vertical', left: 819, top: 13, padding: [9, 44, 49, 47],
      itemGap: 10, itemWidth: 86, itemHeight: 11,
      backgroundColor: '#fff', borderColor: '#000', borderWidth: 1.5,
      textStyle: {fontSize: 37, color: '#000', fontFamily: SANS},
      selectedMode: false,
      data: [
        {name: legendNames[0], icon: 'path://M10,0A10,10,0,1,1,9.99,0ZM10,1.9A8.1,8.1,0,1,0,10.01,1.9Z', itemStyle: {color: '#8a8a8a'}},
        {name: legendNames[1], icon: 'path://M0,0h86v2h-86z', itemStyle: {color: '#ff3b3b'}},
        {name: legendNames[2], icon: 'path://M0,0h86v2h-86z', itemStyle: {color: '#000'}}
      ]
    },
    {
      orient: 'vertical', left: 908, top: 161, padding: 0,
      itemWidth: 86, itemHeight: 20,
      textStyle: {fontSize: 37, color: '#000', fontFamily: SANS},
      selectedMode: false,
      data: [{name: legendNames[3], icon: 'path://M0,0h2v20h-2z', itemStyle: {color: '#000'}}]
    }
  ],
  series: [
    {
      name: legendNames[0], type: 'scatter', data: experimentBackground.concat(experimentBackgroundB, experimentPeaks),
      symbol: 'circle', symbolSize: 12, silent: true, z: 2,
      itemStyle: {color: 'rgba(255,255,255,0)', borderColor: '#7f7f7f', borderWidth: 1.3}
    },
    {
      name: legendNames[1], type: 'line', data: theory.slice().sort(byX), showSymbol: false, silent: true, z: 3,
      lineStyle: {color: '#ff0000', width: 1.2}, itemStyle: {color: '#ff0000'}
    },
    {
      name: legendNames[2], type: 'line', data: difference.concat(differenceDetail).sort(byX), showSymbol: false, silent: true, z: 3,
      lineStyle: {color: '#000', width: 1}, itemStyle: {color: '#000'}
    },
    {
      name: legendNames[3], type: 'scatter', data: braggPeaks.map(x => [x, braggLevel]),
      symbol: 'rect', symbolSize: [2.2, 18], silent: true, itemStyle: {color: '#000'}
    },
    {
      name: 'annotations', type: 'scatter', silent: true, z: 5,
      data: annotationLabels.map((t, i) => ({name: t, value: annotationPositions[i]})),
      symbolSize: 1, itemStyle: {color: 'rgba(0,0,0,0)'},
      label: {show: true, position: 'inside', formatter: '{b}', fontSize: 36, color: '#000', fontFamily: SANS}
    }
  ]
};
chart.setOption(option);
</script></body></html>
